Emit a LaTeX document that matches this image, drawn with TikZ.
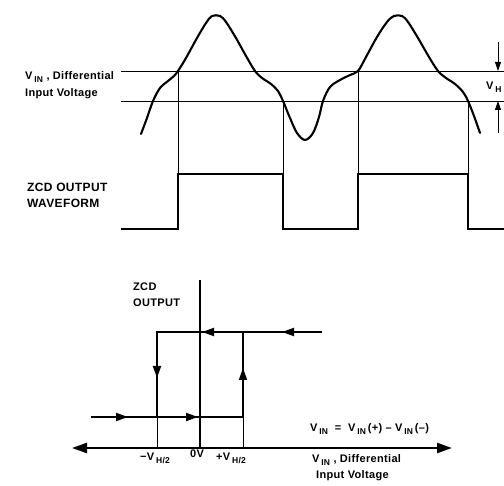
\documentclass[tikz,border=0pt]{standalone}
\usepackage{fontspec}
\setmainfont{Liberation Sans}[LetterSpace=3]
\usetikzlibrary{arrows.meta}
\newcommand\lsub[1]{\,\raisebox{-0.5ex}{\fontsize{8.5}{8.5}\selectfont #1}}
\begin{document}
\begin{tikzpicture}[x=1pt,y=-1pt,
  wave/.style={line width=2.1pt, line join=round, line cap=round},
  thinl/.style={line width=0.7pt},
  sq/.style={line width=2.1pt, line join=miter},
  axisl/.style={line width=2.2pt},
  lbl/.style={font=\fontsize{11}{13}\selectfont\bfseries, inner sep=0pt, anchor=base west},
  lblb/.style={font=\fontsize{12}{14}\selectfont\bfseries, inner sep=0pt, anchor=base west},
  htip/.style={-{Triangle[length=12pt,width=8pt]}, line width=1.9pt},
  vtip/.style={-{Triangle[length=9pt,width=6pt]}, line width=0.8pt},
  atip/.style={{Triangle[length=15pt,width=10pt]}-{Triangle[length=15pt,width=10pt]}, line width=2.4pt},
]
\useasboundingbox (0,0) rectangle (504,486);
% threshold lines
\coordinate (uL) at (121,71); \coordinate (uR) at (504,71);
\coordinate (lL) at (121,101); \coordinate (lR) at (504,101);
\draw[thinl] (uL) -- (uR);
\draw[thinl] (lL) -- (lR);
% input waveform
\draw[wave] plot[smooth, tension=0.55] coordinates {
 (141,134) (147,118) (153,101) (160,88) (168,81) (174,76) (178,71) (186,58) (197,38) (206,23) (212,16) (220,16) (226,22) (236,38) (246,56) (255,71) (262,78) (271,84) (278,91) (283,101) (290,118) (297,133) (305,140) (313,133) (319,117) (323,101) (330,87) (340,80) (350,75) (358,71) (366,57) (377,37) (387,22) (394,16) (402,16) (408,22) (418,38) (429,57) (438,71) (446,78) (455,84) (463,92) (468,101) (474,116) (480,133)};
% crossing points and drop lines
\coordinate (c1) at (178,71); \coordinate (c2) at (283,101);
\coordinate (c3) at (358,71); \coordinate (c4) at (468,101);
\coordinate (s1) at (178,174); \coordinate (s2) at (283,174);
\coordinate (s3) at (358,174); \coordinate (s4) at (468,174);
\draw[thinl] (c1) -- (s1);
\draw[thinl] (c2) -- (s2);
\draw[thinl] (c3) -- (s3);
\draw[thinl] (c4) -- (s4);
% square wave
\draw[sq] (121,229) -- (178,229) -- (s1) -- (s2) -- (283,229) -- (358,229) -- (s3) -- (s4) -- (468,229) -- (504,229);
% VH arrows
\coordinate (vha) at (498,42); \coordinate (vhb) at (498,71);
\coordinate (vhc) at (498,133); \coordinate (vhd) at (498,101);
\draw[vtip] (vha) -- (vhb);
\draw[vtip] (vhc) -- (vhd);
\node[lbl] (vh) at (486,90) {V\lsub{H}};
% labels top
\node[lbl] (t1) at (25,80) {V\lsub{IN} , Differential};
\node[lbl] (t2) at (25,97) {Input Voltage};
\node[lblb] (z1) at (27,192) {ZCD OUTPUT};
\node[lblb] (z2) at (27,208) {WAVEFORM};
% transfer characteristic
\coordinate (axL) at (72,448); \coordinate (axR) at (452,448);
\coordinate (vT) at (200,280); \coordinate (vB) at (200,448);
\draw[atip] (axL) -- (axR);
\draw[axisl] (vT) -- (vB);
\coordinate (tR) at (322,332); \coordinate (tL) at (157,332);
\coordinate (bL) at (91,417); \coordinate (bR) at (243,417);
\coordinate (lb) at (157,417); \coordinate (rt) at (243,332);
\draw[line width=1.9pt] (tR) -- (tL) -- (lb);
\draw[line width=1.9pt] (bL) -- (bR) -- (rt);
\draw[thinl] (lb) -- (157,448);
\draw[thinl] (bR) -- (243,448);
% mid arrows
\draw[htip] (300,332) -- (282,332);
\draw[htip] (220,332) -- (202,332);
\draw[htip] (157,355) -- (157,378);
\draw[htip] (243,392) -- (243,368);
\draw[htip] (110,417) -- (128,417);
\draw[htip] (180,417) -- (198,417);
% labels bottom
\node[lbl] (zc1) at (133,291) {ZCD};
\node[lbl] (zc2) at (133,307) {OUTPUT};
\node[lbl] (m1) at (140,461) {−V\lsub{H/2}};
\node[lbl] (m0) at (190,458) {0V};
\node[lbl] (m2) at (216,461) {+V\lsub{H/2}};
\node[lbl] (eq) at (310,432) {V\lsub{IN}\ \ =\ \ V\lsub{IN}\,(+)\ –\ V\lsub{IN}\,(–)};
\node[lbl] (d1) at (312,463) {V\lsub{IN} , Differential};
\node[lbl] (d2) at (316,479) {Input Voltage};
\end{tikzpicture}
\end{document}
